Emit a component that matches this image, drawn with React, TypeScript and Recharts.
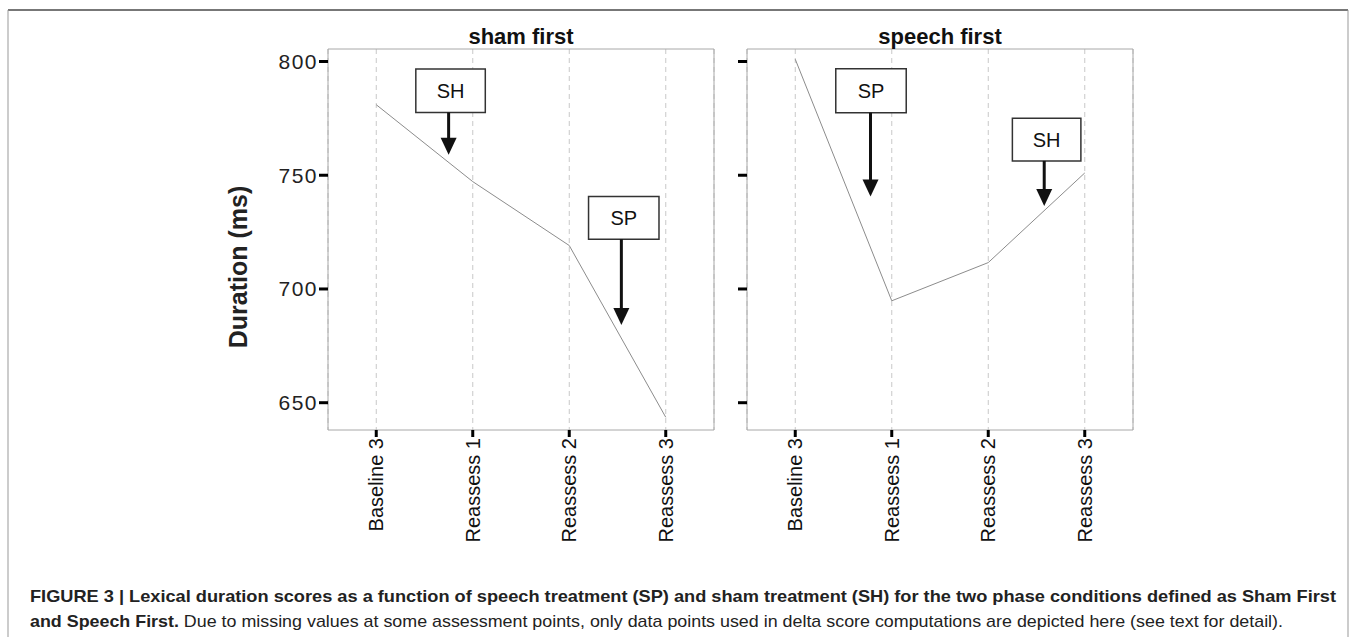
import React from 'react';
import { LineChart, Line, XAxis, YAxis, CartesianGrid, ReferenceArea, ReferenceLine } from 'recharts';

const categories = ['Baseline 3', 'Reassess 1', 'Reassess 2', 'Reassess 3'];
const shamFirst = [781, 747.2, 719.1, 643.6];
const speechFirst = [801, 694.8, 711.6, 751];
const yTicks = [650, 700, 750, 800];
const yDomain: [number, number] = [638, 805.5];

// treatment markers: box spans (x in category index units, y in ms), arrow x and tip
const shamFirstMarks = [
  { label: 'SH', x1: 0.41, x2: 1.13, y1: 777.6, y2: 796.7, ax: 0.75, tip: 759 },
  { label: 'SP', x1: 2.2, x2: 2.93, y1: 721.9, y2: 740.6, ax: 2.54, tip: 684.2 },
];
const speechFirstMarks = [
  { label: 'SP', x1: 0.42, x2: 1.15, y1: 777.5, y2: 796.8, ax: 0.78, tip: 740.7 },
  { label: 'SH', x1: 2.25, x2: 2.96, y1: 756.3, y2: 775.1, ax: 2.58, tip: 736.5 },
];

const font = "'Liberation Sans', Arial, Helvetica, sans-serif";

const XTick = (props: any) => {
  const { x, y, payload } = props;
  return (
    <text
      x={x}
      y={y}
      transform={`rotate(-90, ${x}, ${y})`}
      textAnchor="end"
      dy="0.36em"
      fontSize={20}
      fill="#111"
      fontFamily={font}
    >
      {categories[payload.value]}
    </text>
  );
};

const Arrow = (p: any) => {
  const { x1, y1, x2, y2 } = p;
  const head = 17;
  return (
    <g>
      <line x1={x1} y1={y1} x2={x2} y2={y2 - head + 2} stroke="#111" strokeWidth={3} />
      <polygon points={`${x2 - 8},${y2 - head} ${x2 + 8},${y2 - head} ${x2},${y2}`} fill="#111" />
    </g>
  );
};

type Mark = typeof shamFirstMarks[number];

function Panel({ values, marks, width, yWidth, labels }: { values: number[]; marks: Mark[]; width: number; yWidth: number; labels: boolean }) {
  const data = categories.map((c, i) => ({ idx: i, name: c, value: values[i] }));
  return (
    <LineChart width={width} height={637} data={data} margin={{ top: 49, right: 16, bottom: 100, left: 0 }}>
      <CartesianGrid horizontal={false} stroke="#c8c8c8" strokeDasharray="5 4" />
      <XAxis
        dataKey="idx"
        type="number"
        domain={[-0.5, 3.5]}
        ticks={[0, 1, 2, 3]}
        allowDataOverflow
        interval={0}
        axisLine={false}
        tickLine={{ stroke: '#000', strokeWidth: 3 }}
        tickSize={7}
        tickMargin={1}
        height={107}
        tick={<XTick />}
      />
      <YAxis
        type="number"
        domain={yDomain}
        ticks={yTicks}
        allowDataOverflow
        width={yWidth}
        axisLine={false}
        tickLine={{ stroke: '#000', strokeWidth: 3 }}
        tickSize={9}
        tickMargin={1}
        tickFormatter={(v: number) => (labels ? String(v) : '')}
        tick={{ fontSize: 21, fill: '#222', fontFamily: font, letterSpacing: 1.5 }}
      />
      <ReferenceArea x1={-0.5} x2={3.5} y1={yDomain[0]} y2={yDomain[1]} fill="none" stroke="#a8a8a8" strokeWidth={1} />
      <Line dataKey="value" stroke="#8c8c8c" strokeWidth={1} dot={false} activeDot={false} isAnimationActive={false} />
      {marks.map((m) => (
        <ReferenceArea
          key={m.label + 'box'}
          x1={m.x1}
          x2={m.x2}
          y1={m.y1}
          y2={m.y2}
          fill="#fff"
          fillOpacity={1}
          stroke="#333"
          strokeWidth={1.5}
          label={{ value: m.label, position: 'center', fontSize: 20, fill: '#111', fontFamily: font }}
        />
      ))}
      {marks.map((m) => (
        <ReferenceLine
          key={m.label + 'arrow'}
          segment={[{ x: m.ax, y: m.y1 }, { x: m.ax, y: m.tip }]}
          shape={Arrow}
        />
      ))}
    </LineChart>
  );
}

export default function App() {
  return (
    <div style={{ position: 'relative', width: 1356, height: 637, background: '#fff', overflow: 'hidden' }}>
      <style>{'body{margin:0}'}</style>
      <div style={{ position: 'absolute', left: 0, top: 0 }}>
        <Panel values={shamFirst} marks={shamFirstMarks} width={730} yWidth={328} labels />
      </div>
      <div style={{ position: 'absolute', left: 730, top: 0 }}>
        <Panel values={speechFirst} marks={speechFirstMarks} width={419} yWidth={17} labels={false} />
      </div>
      <svg width={1356} height={637} style={{ position: 'absolute', left: 0, top: 0, pointerEvents: 'none' }}>
        <line x1={8} y1={10} x2={1348} y2={10} stroke="#777" strokeWidth={2} />
        <line x1={8} y1={10} x2={8} y2={637} stroke="#999" strokeWidth={1} />
        <line x1={1348} y1={10} x2={1348} y2={637} stroke="#999" strokeWidth={1} />
        <text x={521} y={44} textAnchor="middle" fontSize={22} fontWeight="bold" fill="#111" fontFamily={font}>sham first</text>
        <text x={940} y={44} textAnchor="middle" fontSize={22} fontWeight="bold" fill="#111" fontFamily={font}>speech first</text>
        <text
          x={238}
          y={267}
          transform="rotate(-90, 238, 267)"
          textAnchor="middle"
          dy="0.36em"
          fontSize={25}
          fontWeight="bold"
          fill="#222"
          fontFamily={font}
        >
          Duration (ms)
        </text>
        <text x={30} y={602} fontSize={17} fontWeight="bold" fill="#222" fontFamily={font} textLength={1306} lengthAdjust="spacingAndGlyphs">
          FIGURE 3 | Lexical duration scores as a function of speech treatment (SP) and sham treatment (SH) for the two phase conditions defined as Sham First
        </text>
        <text x={30} y={627} fontSize={17} fill="#222" fontFamily={font} textLength={1253} lengthAdjust="spacingAndGlyphs">
          <tspan fontWeight="bold">and Speech First.</tspan> Due to missing values at some assessment points, only data points used in delta score computations are depicted here (see text for detail).
        </text>
      </svg>
    </div>
  );
}
